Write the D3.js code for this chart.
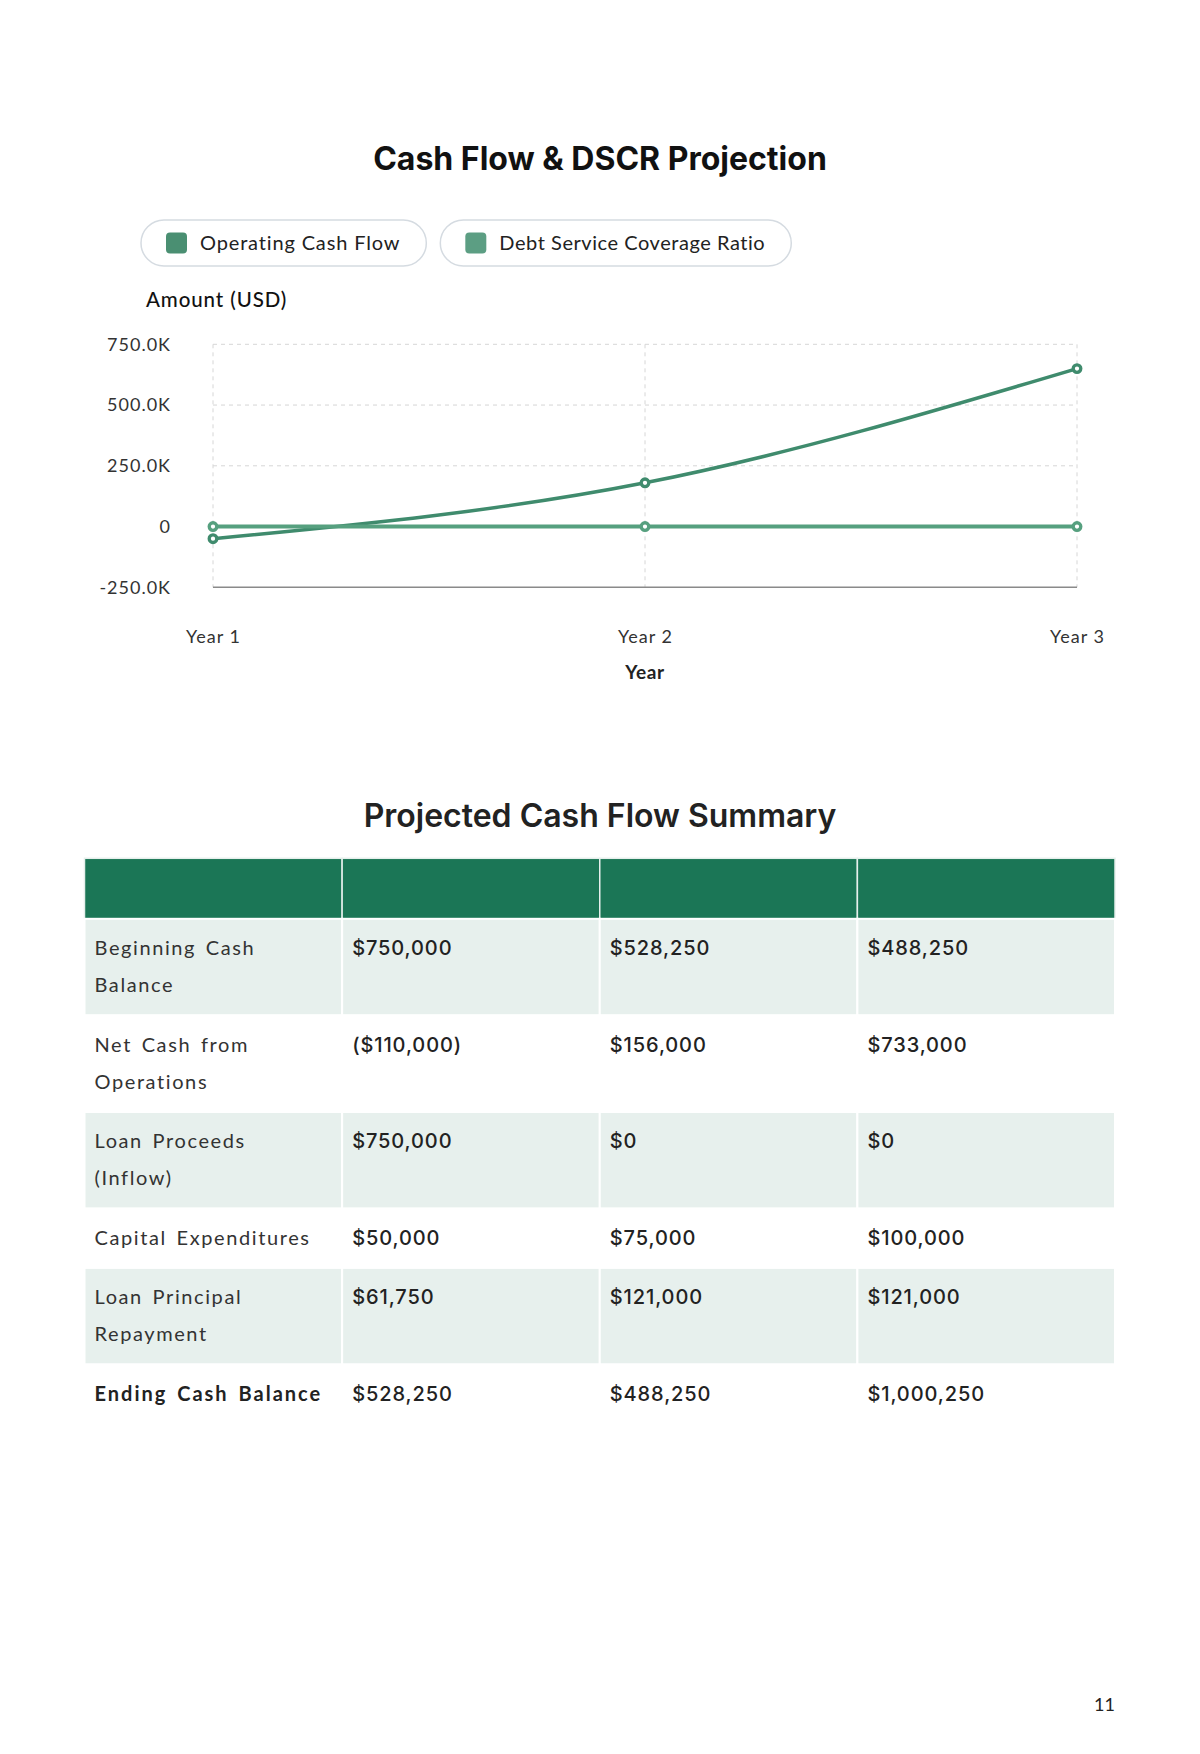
<!DOCTYPE html>
<html>
<head>
<meta charset="utf-8">
<script src="https://cdn.jsdelivr.net/npm/d3@7"></script>
<style>
  body { margin: 0; background: #fff; }
  svg { display: block; }
  .title { font-family: Inter, "Noto Sans", sans-serif; fill: #111; }
  .lbl { font-family: Lato, "Noto Sans", sans-serif; fill: #222; }
  .axis text { font-family: Lato, sans-serif; font-size: 18px; fill: #333; letter-spacing: 1px; }
  .gridline { stroke: #d6d6d6; stroke-dasharray: 4 4; stroke-width: 1; }
  .cell-label { font-family: Lato, sans-serif; font-size: 20px; fill: #333; letter-spacing: 1.6px; word-spacing: 3px; }
  .cell-value { font-family: Inter, sans-serif; font-size: 20px; font-weight: 500; fill: #222; letter-spacing: 0.9px; }
</style>
</head>
<body>
<div id="page"></div>
<script>
// chart data
const years = ["Year 1", "Year 2", "Year 3"];
const operatingCashFlow = [-50000, 180000, 650000];
const dscr = [-0.4, 1.1, 4.0];
const yTicks = [-250000, 0, 250000, 500000, 750000];
const seriesNames = ["Operating Cash Flow", "Debt Service Coverage Ratio"];
const seriesColors = ["#3f8b6d", "#56a07f"];
const swatchColors = ["#4a8f72", "#5c9e83"];

// table data
const rowLabels = ["Beginning Cash Balance", "Net Cash from Operations", "Loan Proceeds (Inflow)",
                   "Capital Expenditures", "Loan Principal Repayment", "Ending Cash Balance"];
const beginningCash = [750000, 528250, 488250];
const netCashOps = [-110000, 156000, 733000];
const loanProceeds = [750000, 0, 0];
const capex = [50000, 75000, 100000];
const principalRepayment = [61750, 121000, 121000];
const endingCash = [528250, 488250, 1000250];

const svg = d3.select("#page").append("svg")
    .attr("width", 1200)
    .attr("height", 1754);

class CashFlowChart {
  constructor(_config) {
    this.config = {
      left: 213, right: 1077, top: 344.3, bottom: 587.3
    };
    this.initVis();
  }

  initVis() {
    let vis = this;
    let c = vis.config;

    svg.append("text").attr("class", "title")
        .attr("x", 600).attr("y", 159).attr("dy", "0.35em")
        .attr("text-anchor", "middle")
        .attr("font-size", 32).attr("font-weight", 700)
        .text("Cash Flow & DSCR Projection");

    // legend pills
    let legend = svg.append("g");
    let lx = 141;
    seriesNames.forEach((name, i) => {
      let g = legend.append("g");
      let txt = g.append("text").attr("class", "lbl")
          .attr("x", lx + 59).attr("y", 243).attr("dy", "0.35em")
          .attr("font-size", 20).attr("letter-spacing", i === 0 ? "0.85px" : "0.55px")
          .text(name);
      let w = txt.node().getComputedTextLength();
      let pw = 59 + w + 26;
      g.insert("rect", "text")
          .attr("x", lx).attr("y", 220).attr("width", pw).attr("height", 46)
          .attr("rx", 23).attr("fill", "#fff")
          .attr("stroke", "#d5dbe1").attr("stroke-width", 1.5);
      g.insert("rect", "text")
          .attr("x", lx + 25).attr("y", 232.5).attr("width", 21).attr("height", 21)
          .attr("rx", 4).attr("fill", swatchColors[i]);
      lx += pw + 14;
    });

    svg.append("text").attr("class", "lbl")
        .attr("x", 146).attr("y", 300).attr("dy", "0.35em")
        .attr("font-size", 20.5).attr("font-weight", 500).attr("letter-spacing", "0.9px")
        .style("fill", "#111")
        .text("Amount (USD)");

    vis.xScale = d3.scalePoint().domain(years).range([c.left, c.right]);
    vis.yScale = d3.scaleLinear().domain([yTicks[0], yTicks[yTicks.length - 1]]).range([c.bottom, c.top]);

    vis.plot = svg.append("g");
    vis.updateVis();
  }

  updateVis() {
    let vis = this;
    let c = vis.config;

    // grid
    vis.plot.selectAll(".gridline-y")
      .data(yTicks.slice(1))
      .join("line")
        .attr("class", "gridline gridline-y")
        .attr("x1", c.left).attr("x2", c.right)
        .attr("y1", d => vis.yScale(d)).attr("y2", d => vis.yScale(d));

    vis.plot.selectAll(".gridline-x")
      .data(years)
      .join("line")
        .attr("class", "gridline gridline-x")
        .attr("x1", d => vis.xScale(d)).attr("x2", d => vis.xScale(d))
        .attr("y1", c.top).attr("y2", c.bottom);

    vis.plot.append("line")
        .attr("x1", c.left).attr("x2", c.right)
        .attr("y1", c.bottom).attr("y2", c.bottom)
        .attr("stroke", "#8a8a8a").attr("stroke-width", 1.5);

    // axes
    let fmt = d => d === 0 ? "0" : (d < 0 ? "-" : "") + d3.format(".1f")(Math.abs(d) / 1000) + "K";
    let yAxis = d3.axisLeft(vis.yScale).tickValues(yTicks).tickFormat(fmt).tickSize(0).tickPadding(0);
    vis.plot.append("g")
        .attr("class", "axis axis--y")
        .attr("transform", "translate(171,0)")
        .call(yAxis)
        .call(g => g.select(".domain").remove());

    let xAxis = d3.axisBottom(vis.xScale).tickSize(0).tickPadding(0);
    vis.plot.append("g")
        .attr("class", "axis axis--x")
        .attr("transform", "translate(0,637)")
        .call(xAxis)
        .call(g => g.select(".domain").remove())
        .selectAll("text").attr("dy", "0.35em");

    vis.plot.append("text").attr("class", "lbl")
        .attr("x", vis.xScale(years[1])).attr("y", 672).attr("dy", "0.35em")
        .attr("text-anchor", "middle")
        .attr("font-size", 19).attr("font-weight", 700).attr("letter-spacing", "0.6px")
        .text("Year");

    // lines
    let series = [operatingCashFlow, dscr];
    let line = d3.line()
        .x((d, i) => vis.xScale(years[i]))
        .y(d => vis.yScale(d))
        .curve(d3.curveMonotoneX);

    series.forEach((values, si) => {
      vis.plot.append("path")
          .datum(values)
          .attr("fill", "none")
          .attr("stroke", seriesColors[si])
          .attr("stroke-width", si === 0 ? 3.5 : 4)
          .attr("d", line);
    });

    series.forEach((values, si) => {
      vis.plot.selectAll(".pt-" + si)
        .data(values)
        .join("circle")
          .attr("class", "pt-" + si)
          .attr("cx", (d, i) => vis.xScale(years[i]))
          .attr("cy", d => vis.yScale(d))
          .attr("r", 3.8)
          .attr("fill", "#fff")
          .attr("stroke", seriesColors[si])
          .attr("stroke-width", 3.3);
    });
  }
}

class SummaryTable {
  constructor() {
    this.config = { left: 84.5, top: 858.3, width: 1030.5, headerHeight: 60.5, lineHeight: 37.3, padTop: 10.5, padBottom: 11.5, padLeft: 10, maxText: 230 };
    this.initVis();
  }

  initVis() {
    let vis = this;
    let c = vis.config;

    svg.append("text").attr("class", "title")
        .attr("x", 600).attr("y", 816).attr("dy", "0.35em")
        .attr("text-anchor", "middle")
        .attr("font-size", 32).attr("font-weight", 600)
        .style("fill", "#222")
        .text("Projected Cash Flow Summary");

    let money = d3.format("$,");
    let fmt = v => v < 0 ? "(" + money(-v) + ")" : money(v);
    let cols = [beginningCash, netCashOps, loanProceeds, capex, principalRepayment, endingCash];

    vis.colScale = d3.scaleBand().domain(d3.range(4)).range([c.left, c.left + c.width]);
    let colW = vis.colScale.bandwidth();

    vis.g = svg.append("g");

    // header
    vis.g.selectAll(".hdr")
      .data(d3.range(4))
      .join("rect")
        .attr("class", "hdr")
        .attr("x", d => vis.colScale(d)).attr("y", c.top)
        .attr("width", colW).attr("height", c.headerHeight)
        .attr("fill", "#1b7656")
        .attr("stroke", "#e6efec").attr("stroke-width", 1.5);

    let y = c.top + c.headerHeight;
    rowLabels.forEach((label, r) => {
      let row = vis.g.append("g");
      let bg = row.append("g");
      let bold = r === rowLabels.length - 1;

      // wrap label into lines
      let words = label.split(" ");
      let lines = [];
      let cur = [];
      let probe = row.append("text").attr("class", "cell-label")
          .style("font-weight", bold ? 700 : 400)
          .style("letter-spacing", bold ? "2px" : null);
      words.forEach(w => {
        let t = cur.concat([w]).join(" ");
        probe.text(t);
        if (probe.node().getComputedTextLength() > c.maxText && cur.length) {
          lines.push(cur.join(" "));
          cur = [w];
        } else {
          cur.push(w);
        }
      });
      lines.push(cur.join(" "));
      probe.remove();

      let h = c.padTop + c.padBottom + lines.length * c.lineHeight;
      let firstY = y + c.padTop + c.lineHeight / 2;

      bg.selectAll("rect")
        .data(d3.range(4))
        .join("rect")
          .attr("x", d => vis.colScale(d)).attr("y", y)
          .attr("width", colW).attr("height", h)
          .attr("fill", r % 2 === 0 ? "#e7f0ed" : "#fff")
          .attr("stroke", "#fff").attr("stroke-width", 2);

      let lt = row.append("text").attr("class", "cell-label")
          .style("font-weight", bold ? 700 : 400)
          .style("letter-spacing", bold ? "2px" : null)
          .style("fill", bold ? "#222" : "#333");
      lines.forEach((ln, li) => {
        lt.append("tspan")
            .attr("x", c.left + c.padLeft)
            .attr("y", firstY + li * c.lineHeight)
            .attr("dy", "0.35em")
            .text(ln);
      });

      row.selectAll(".cell-value")
        .data(cols[r])
        .join("text")
          .attr("class", "cell-value")
          .attr("x", (d, i) => vis.colScale(i + 1) + c.padLeft)
          .attr("y", firstY).attr("dy", "0.35em")
          .text(d => fmt(d));

      y += h;
    });
  }
}

new CashFlowChart();
new SummaryTable();

svg.append("text").attr("class", "lbl")
    .attr("x", 1115).attr("y", 1705).attr("dy", "0.35em")
    .attr("text-anchor", "end")
    .attr("font-size", 18)
    .text("11");
</script>
</body>
</html>
